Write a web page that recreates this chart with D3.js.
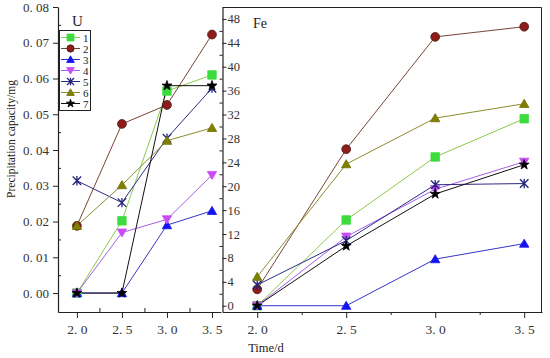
<!DOCTYPE html>
<html><head><meta charset="utf-8">
<script src="https://cdn.jsdelivr.net/npm/d3@7/dist/d3.min.js"></script>
<style>body{margin:0;background:#fff}svg{display:block}text{font-family:"Liberation Serif","DejaVu Serif",serif}</style>
</head><body><svg id="c" width="550" height="358"></svg>
<script>
const times = [2.0, 2.5, 3.0, 3.5];
const timeLabels = ["2. 0", "2. 5", "3. 0", "3. 5"];
const seriesNames = ["1", "2", "3", "4", "5", "6", "7"];
const uValues = [
  [0, 0.0202, 0.0565, 0.0610],
  [0.0188, 0.0473, 0.0526, 0.0723],
  [0, 0, 0.0190, 0.0230],
  [0, 0.0169, 0.0206, 0.0330],
  [0.0314, 0.0253, 0.0433, 0.0573],
  [0.0188, 0.0302, 0.0426, 0.0462],
  [0, 0, 0.0580, 0.0580]
];
const feValues = [
  [0, 14.35, 24.9, 31.3],
  [2.75, 26.2, 45.0, 46.7],
  [0, 0, 7.8, 10.4],
  [0, 11.55, 19.5, 24.1],
  [3.47, 10.9, 20.25, 20.45],
  [4.85, 23.7, 31.4, 33.8],
  [0, 10.0, 18.7, 23.6]
];
const uTicks = [0, 0.01, 0.02, 0.03, 0.04, 0.05, 0.06, 0.07, 0.08];
const uTickLabels = ["0. 00","0. 01","0. 02","0. 03","0. 04","0. 05","0. 06","0. 07","0. 08"];
const uMinor = [0.005, 0.015, 0.025, 0.035, 0.045, 0.055, 0.065, 0.075];
const feTicks = [0,4,8,12,16,20,24,28,32,36,40,44,48];
const feTickLabels = ["0","4","8","12","16","20","24","28","32","36","40","44","48"];
const feMinor = [2,6,10,14,18,22,26,30,34,38,42,46];
const timeMinor = [2.25, 2.75, 3.25];
const uYLimits = [-0.0053, 0.08];
const feYLimits = [-1.05, 50];
const uXLimits = [1.79, 3.6];
const feXLimits = [1.805, 3.6];

const markers = ["square","circle","triangle","triangleDown","asterisk","triangle","star"];
const fills = ["#3ddc3d","#8e1c1c","#1414f0","#c94cf5","none","#808000","#000000"];
const strokesM = ["#3ddc3d","#4a1f14","#1414f0","#c94cf5","#23237a","#6f6f00","#000000"];
const lineCols = ["#8fca4e","#7a4434","#3535c8","#a75ee8","#2c2c84","#8c8c2c","#111111"];

const svg = d3.select("#c");
const fs = "Liberation Serif";

function markerPath(type, s) {
  const h = s/2;
  if (type === "square") return `M${-h},${-h}H${h}V${h}H${-h}Z`;
  if (type === "circle") return d3.symbol(d3.symbolCircle, s*s*0.85)();
  if (type === "triangle") return `M0,${-h*1.05}L${h*1.1},${h*0.85}L${-h*1.1},${h*0.85}Z`;
  if (type === "triangleDown") return `M0,${h*1.05}L${h*1.1},${-h*0.85}L${-h*1.1},${-h*0.85}Z`;
  if (type === "asterisk") return `M${-h},${-h}L${h},${h}M${h},${-h}L${-h},${h}M0,${-h*1.1}L0,${h*1.1}`;
  if (type === "star") return d3.symbol(d3.symbolStar, s*s*0.42)();
}

function panel(xLim, yLim, x0, x1, y0, y1) {
  const x = d3.scaleLinear().domain(xLim).range([x0, x1]);
  const y = d3.scaleLinear().domain(yLim).range([y1, y0]);
  return {x, y};
}

const U = panel(uXLimits, uYLimits, 58, 221, 7, 312);
const F = panel(feXLimits, feYLimits, 222.5, 542, 7, 312);

svg.append("path").attr("d", `M${F.x.range()[0]},7.5H541.5V312`).attr("fill","none").attr("stroke","#222").attr("stroke-width",1);

function drawSeries(P, data, size) {
  const line = d3.line().x((d,i)=>P.x(times[i])).y(d=>P.y(d));
  data.forEach((vals, k) => {
    svg.append("path").datum(vals).attr("d", line).attr("fill","none")
      .attr("stroke", lineCols[k]).attr("stroke-width", 1);
  });
  data.forEach((vals, k) => {
    vals.forEach((v, i) => {
      svg.append("path").attr("d", markerPath(markers[k], size))
        .attr("transform", `translate(${P.x(times[i])},${P.y(v)})`)
        .attr("fill", fills[k]).attr("stroke", strokesM[k])
        .attr("stroke-width", markers[k]==="asterisk" ? 1.3 : 0.8);
    });
  });
}
drawSeries(U, uValues, 8.5);
drawSeries(F, feValues, 8.5);

function styleAxis(g, size) {
  g.selectAll("path.domain").attr("stroke","#222").attr("stroke-width",1.2);
  g.selectAll(".tick line").attr("stroke","#222");
  g.selectAll("text").attr("font-family", fs).attr("font-size", size).attr("fill","#333");
}
let g = svg.append("g").attr("transform","translate(58,0)")
  .call(d3.axisLeft(U.y).tickValues(uTicks).tickFormat((d,i)=>uTickLabels[i]).tickSize(5).tickPadding(4).tickSizeOuter(0));
styleAxis(g, 13);
svg.append("g").attr("transform","translate(58,0)")
  .call(d3.axisRight(U.y).tickValues(uMinor).tickFormat("").tickSize(3).tickSizeOuter(0))
  .call(s=>{s.select(".domain").remove(); s.selectAll("line").attr("stroke","#222");});
g = svg.append("g").attr("transform","translate(0,312)")
  .call(d3.axisBottom(U.x).tickValues(times).tickFormat((d,i)=>timeLabels[i]).tickSize(6).tickPadding(6).tickSizeOuter(0));
styleAxis(g, 13.5);
svg.append("g").attr("transform","translate(0,312)")
  .call(d3.axisTop(U.x).tickValues(timeMinor).tickFormat("").tickSize(4).tickSizeOuter(0))
  .call(s=>{s.select(".domain").remove(); s.selectAll("line").attr("stroke","#222");});
g = svg.append("g").attr("transform","translate(222.5,0)")
  .call(d3.axisRight(F.y).tickValues(feTicks).tickFormat((d,i)=>feTickLabels[i]).tickSize(4).tickPadding(1).tickSizeOuter(0));
styleAxis(g, 12.5);
svg.append("g").attr("transform","translate(222.5,0)")
  .call(d3.axisLeft(F.y).tickValues(feMinor).tickFormat("").tickSize(3).tickSizeOuter(0))
  .call(s=>{s.select(".domain").remove(); s.selectAll("line").attr("stroke","#222");});
g = svg.append("g").attr("transform","translate(0,312)")
  .call(d3.axisBottom(F.x).tickValues(times).tickFormat((d,i)=>timeLabels[i]).tickSize(6).tickPadding(6).tickSizeOuter(0));
styleAxis(g, 13.5);
svg.append("g").attr("transform","translate(0,312)")
  .call(d3.axisBottom(F.x).tickValues(timeMinor).tickFormat("").tickSize(3).tickSizeOuter(0))
  .call(s=>{s.select(".domain").remove(); s.selectAll("line").attr("stroke","#222");});

svg.append("text").attr("x",72).attr("y",26).attr("font-family",fs).attr("font-size",15).attr("fill","#222").text("U");
svg.append("text").attr("x",253).attr("y",28).attr("font-family",fs).attr("font-size",14).attr("fill","#222").text("Fe");

svg.append("text").attr("transform","translate(15,139) rotate(-90)").attr("text-anchor","middle")
  .attr("font-family",fs).attr("font-size",11.5).attr("fill","#222").text("Precipitation capacity/mg");
svg.append("text").attr("x",266).attr("y",352).attr("text-anchor","middle")
  .attr("font-family",fs).attr("font-size",12.5).attr("fill","#222").text("Time/d");

const lg = svg.append("g");
lg.append("rect").attr("x",59.5).attr("y",30.5).attr("width",31).attr("height",80)
  .attr("fill","#fff").attr("stroke","#222").attr("stroke-width",1);
seriesNames.forEach((n,k)=>{
  const yy = 37.5 + k*11;
  lg.append("line").attr("x1",61).attr("x2",80).attr("y1",yy).attr("y2",yy).attr("stroke",lineCols[k]).attr("stroke-width",1);
  lg.append("path").attr("d", markerPath(markers[k], 7)).attr("transform",`translate(70.5,${yy})`)
    .attr("fill", fills[k]).attr("stroke", strokesM[k]).attr("stroke-width", markers[k]==="asterisk"?1.2:0.8);
  lg.append("text").attr("x",83).attr("y",yy+4).attr("font-family",fs).attr("font-size",11).attr("fill","#222").text(n);
});
</script></body></html>
